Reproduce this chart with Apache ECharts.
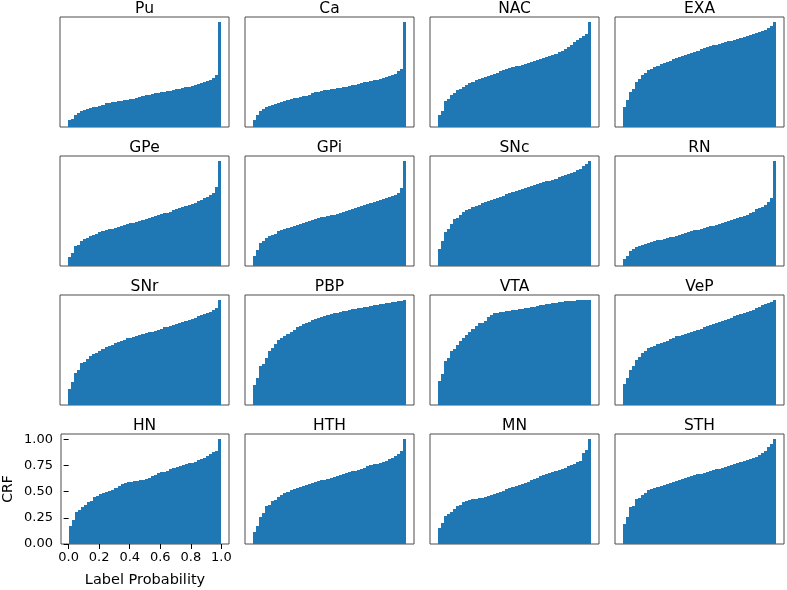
<!DOCTYPE html>
<html>
<head>
<meta charset="utf-8">
<script src="https://cdn.jsdelivr.net/npm/echarts@6/dist/echarts.min.js"></script>
<style>
html,body{margin:0;padding:0;background:#fff;}
#chart{width:787px;height:590px;}
</style>
</head>
<body>
<div id="chart"></div>
<script>
// ---- data (cumulative relative frequency per 0.02-wide bin) ----
const categories = ['Pu','Ca','NAC','EXA','GPe','GPi','SNc','RN','SNr','PBP','VTA','VeP','HN','HTH','MN','STH'];
const binCount = 50;

const Pu  = [0.065,0.08,0.115,0.13,0.15,0.16,0.17,0.18,0.19,0.195,0.20,0.21,0.225,0.23,0.235,0.24,0.245,0.25,0.255,0.26,0.265,0.27,0.28,0.29,0.30,0.305,0.31,0.315,0.32,0.325,0.33,0.335,0.34,0.345,0.355,0.36,0.365,0.37,0.38,0.385,0.395,0.40,0.41,0.42,0.43,0.44,0.45,0.465,0.50,1.0];
const Ca  = [0.07,0.11,0.15,0.17,0.19,0.20,0.21,0.22,0.23,0.24,0.25,0.26,0.265,0.275,0.28,0.29,0.295,0.30,0.31,0.32,0.33,0.335,0.34,0.35,0.355,0.36,0.365,0.37,0.375,0.38,0.385,0.39,0.40,0.405,0.41,0.42,0.425,0.43,0.44,0.445,0.45,0.46,0.47,0.48,0.49,0.50,0.51,0.53,0.55,1.0];
const NAC = [0.11,0.15,0.25,0.27,0.31,0.32,0.35,0.36,0.38,0.40,0.42,0.43,0.45,0.46,0.47,0.48,0.49,0.50,0.51,0.52,0.53,0.54,0.55,0.56,0.57,0.58,0.585,0.59,0.60,0.61,0.62,0.63,0.64,0.65,0.66,0.67,0.68,0.69,0.70,0.72,0.73,0.74,0.76,0.78,0.81,0.83,0.85,0.87,0.89,1.0];
const EXA = [0.19,0.26,0.33,0.36,0.43,0.46,0.50,0.52,0.54,0.55,0.57,0.58,0.60,0.61,0.62,0.63,0.645,0.66,0.67,0.68,0.69,0.70,0.71,0.72,0.73,0.74,0.75,0.76,0.77,0.78,0.785,0.79,0.80,0.81,0.82,0.825,0.83,0.84,0.85,0.86,0.87,0.88,0.89,0.90,0.91,0.92,0.93,0.945,0.96,1.0];
const GPe = [0.09,0.12,0.19,0.20,0.24,0.26,0.27,0.29,0.30,0.31,0.32,0.33,0.34,0.35,0.355,0.36,0.37,0.38,0.39,0.40,0.41,0.415,0.42,0.43,0.44,0.45,0.46,0.47,0.48,0.49,0.50,0.505,0.51,0.52,0.53,0.54,0.55,0.56,0.57,0.58,0.59,0.60,0.62,0.63,0.65,0.66,0.68,0.70,0.75,1.0];
const GPi = [0.10,0.15,0.215,0.235,0.27,0.29,0.30,0.31,0.33,0.34,0.35,0.36,0.37,0.38,0.39,0.40,0.41,0.42,0.43,0.44,0.45,0.46,0.465,0.47,0.48,0.485,0.49,0.50,0.51,0.52,0.525,0.53,0.54,0.55,0.56,0.57,0.58,0.59,0.60,0.61,0.62,0.63,0.64,0.65,0.66,0.67,0.68,0.70,0.74,1.0];
const SNc = [0.16,0.24,0.32,0.355,0.40,0.445,0.46,0.49,0.515,0.53,0.545,0.56,0.57,0.585,0.60,0.61,0.62,0.63,0.64,0.65,0.66,0.67,0.685,0.695,0.705,0.715,0.725,0.735,0.745,0.755,0.765,0.775,0.78,0.79,0.80,0.81,0.815,0.825,0.835,0.845,0.855,0.865,0.875,0.89,0.90,0.915,0.93,0.95,0.97,1.0];
const RN  = [0.065,0.10,0.145,0.16,0.185,0.19,0.20,0.21,0.22,0.225,0.235,0.245,0.25,0.26,0.27,0.275,0.28,0.29,0.30,0.31,0.315,0.32,0.33,0.34,0.345,0.355,0.36,0.37,0.38,0.385,0.395,0.40,0.41,0.42,0.43,0.44,0.45,0.46,0.47,0.48,0.49,0.51,0.52,0.54,0.555,0.565,0.58,0.61,0.65,1.0];
const SNr = [0.15,0.215,0.31,0.335,0.40,0.41,0.44,0.47,0.49,0.50,0.52,0.53,0.55,0.56,0.575,0.59,0.60,0.615,0.625,0.635,0.64,0.65,0.66,0.67,0.68,0.69,0.695,0.70,0.71,0.72,0.73,0.74,0.745,0.755,0.765,0.775,0.785,0.79,0.80,0.81,0.82,0.83,0.845,0.855,0.87,0.88,0.89,0.905,0.925,1.0];
const PBP = [0.195,0.255,0.37,0.395,0.45,0.515,0.54,0.58,0.62,0.635,0.66,0.68,0.70,0.72,0.74,0.755,0.77,0.785,0.795,0.81,0.82,0.83,0.84,0.85,0.86,0.865,0.875,0.88,0.89,0.895,0.90,0.91,0.915,0.92,0.925,0.93,0.935,0.94,0.945,0.95,0.955,0.96,0.965,0.97,0.975,0.98,0.985,0.99,0.995,1.0];
const VTA = [0.23,0.30,0.42,0.45,0.52,0.53,0.57,0.61,0.635,0.67,0.70,0.725,0.75,0.78,0.785,0.80,0.84,0.86,0.875,0.88,0.885,0.89,0.895,0.90,0.905,0.91,0.915,0.92,0.925,0.93,0.935,0.94,0.945,0.95,0.955,0.96,0.965,0.97,0.975,0.98,0.985,0.99,0.99,0.995,0.995,0.998,0.998,1.0,1.0,1.0];
const VeP = [0.20,0.26,0.335,0.37,0.425,0.46,0.50,0.52,0.54,0.55,0.565,0.58,0.59,0.60,0.615,0.63,0.64,0.655,0.66,0.67,0.68,0.69,0.70,0.71,0.72,0.73,0.74,0.75,0.76,0.77,0.78,0.79,0.80,0.815,0.825,0.835,0.845,0.855,0.865,0.875,0.885,0.90,0.91,0.925,0.935,0.95,0.96,0.97,0.985,1.0];
const HN  = [0.17,0.23,0.31,0.325,0.35,0.375,0.40,0.41,0.45,0.46,0.48,0.49,0.50,0.51,0.52,0.535,0.555,0.575,0.58,0.59,0.595,0.60,0.605,0.61,0.615,0.62,0.63,0.645,0.66,0.675,0.685,0.69,0.70,0.715,0.73,0.735,0.74,0.75,0.76,0.77,0.775,0.785,0.80,0.815,0.82,0.84,0.86,0.875,0.885,1.0];
const HTH = [0.11,0.17,0.26,0.295,0.36,0.37,0.41,0.42,0.45,0.47,0.49,0.50,0.515,0.525,0.535,0.545,0.555,0.565,0.575,0.585,0.59,0.60,0.61,0.615,0.625,0.63,0.64,0.65,0.66,0.67,0.68,0.685,0.695,0.70,0.71,0.72,0.73,0.74,0.75,0.76,0.765,0.775,0.785,0.795,0.81,0.82,0.84,0.86,0.89,1.0];
const MN  = [0.15,0.20,0.27,0.285,0.31,0.33,0.36,0.375,0.40,0.41,0.42,0.425,0.43,0.435,0.44,0.45,0.46,0.47,0.48,0.49,0.50,0.51,0.525,0.535,0.545,0.555,0.565,0.575,0.585,0.595,0.61,0.62,0.63,0.645,0.655,0.665,0.675,0.685,0.695,0.705,0.715,0.725,0.74,0.75,0.76,0.785,0.79,0.87,0.90,1.0];
const STH = [0.19,0.26,0.355,0.365,0.425,0.44,0.47,0.49,0.52,0.525,0.535,0.545,0.555,0.565,0.575,0.585,0.595,0.605,0.615,0.625,0.63,0.64,0.645,0.655,0.665,0.67,0.68,0.69,0.70,0.705,0.715,0.72,0.73,0.735,0.745,0.75,0.76,0.77,0.785,0.795,0.80,0.81,0.82,0.835,0.85,0.87,0.89,0.93,0.95,1.0];

const xTickValues = [0, 0.2, 0.4, 0.6, 0.8, 1.0];
const xTickLabels = ['0.0', '0.2', '0.4', '0.6', '0.8', '1.0'];
const yTickValues = [0, 0.25, 0.5, 0.75, 1.0];
const yTickLabels = ['0.00', '0.25', '0.50', '0.75', '1.00'];
const xAxisName = 'Label Probability';
const yAxisName = 'CRF';

const valuesByRegion = {Pu, Ca, NAC, EXA, GPe, GPi, SNc, RN, SNr, PBP, VTA, VeP, HN, HTH, MN, STH};

// ---- layout ----
const colLeft = [60, 245, 430, 615];
const rowTop = [17, 156, 295, 434];
const cellW = 169, cellH = 110;
const labeledIndex = 12; // HN
const FONT = 'DejaVu Sans';
const BLUE = '#1f77b4';

const grids = [], xAxes = [], yAxes = [], series = [], graphics = [];

categories.forEach((name, i) => {
  const r = Math.floor(i / 4), c = i % 4;
  const labeled = (i === labeledIndex);
  grids.push({
    left: colLeft[c], top: rowTop[r], width: cellW, height: cellH,
    show: true, borderColor: '#4d4d4d', borderWidth: 1, backgroundColor: 'transparent',
    containLabel: false
  });
  xAxes.push({
    type: 'value', gridIndex: i, min: -0.05, max: 1.05,
    splitLine: {show: false},
    axisLine: {show: false},
    axisTick: labeled ? {show: true, length: 5, lineStyle: {color: '#000', width: 1}, customValues: xTickValues} : {show: false},
    axisLabel: labeled ? {
      show: true, margin: 7, fontSize: 13, color: '#000', fontFamily: FONT,
      customValues: xTickValues,
      formatter: v => { const k = xTickValues.findIndex(t => Math.abs(t - v) < 1e-9); return k >= 0 ? xTickLabels[k] : ''; }
    } : {show: false},
    name: labeled ? xAxisName : '',
    nameLocation: 'middle', nameGap: 29,
    nameTextStyle: {fontSize: 14.5, color: '#000', fontFamily: FONT}
  });
  yAxes.push({
    type: 'value', gridIndex: i, min: 0, max: 1.05,
    splitLine: {show: false},
    axisLine: {show: false},
    axisTick: labeled ? {show: true, length: 5, lineStyle: {color: '#000', width: 1}, customValues: yTickValues} : {show: false},
    axisLabel: labeled ? {
      show: true, margin: 8, fontSize: 13, color: '#000', fontFamily: FONT,
      customValues: yTickValues,
      formatter: v => { const k = yTickValues.findIndex(t => Math.abs(t - v) < 1e-9); return k >= 0 ? yTickLabels[k] : ''; }
    } : {show: false},
    name: labeled ? yAxisName : '',
    nameLocation: 'middle', nameGap: 46, nameRotate: 90,
    nameTextStyle: {fontSize: 14, color: '#000', fontFamily: FONT}
  });
  const vals = valuesByRegion[name];
  const data = vals.map((v, k) => [k / binCount, (k + 1) / binCount, v]);
  series.push({
    type: 'custom', xAxisIndex: i, yAxisIndex: i,
    encode: {x: [0, 1], y: 2},
    data: data,
    clip: true,
    renderItem: function (params, api) {
      const x0 = api.value(0), x1 = api.value(1), y = api.value(2);
      const pTop = api.coord([x0, y]);
      const pBot = api.coord([x1, 0]);
      const left = Math.round(pTop[0]);
      const right = Math.round(pBot[0]);
      const top = Math.round(pTop[1]);
      const bottom = Math.round(pBot[1]);
      return {
        type: 'rect',
        shape: {x: left, y: top, width: right - left, height: bottom - top},
        style: {fill: BLUE}
      };
    }
  });
  graphics.push({
    type: 'text',
    x: colLeft[c] + cellW / 2, y: rowTop[r] - 8,
    style: {text: name, fill: '#000', font: '15.5px "DejaVu Sans"', align: 'center', verticalAlign: 'middle', textAlign: 'center', textVerticalAlign: 'middle'}
  });
});

const chart = echarts.init(document.getElementById('chart'), null, {renderer: 'canvas'});
chart.setOption({
  animation: false,
  backgroundColor: '#fff',
  textStyle: {fontFamily: FONT},
  grid: grids,
  xAxis: xAxes,
  yAxis: yAxes,
  series: series,
  graphic: graphics
});
</script>
</body>
</html>
